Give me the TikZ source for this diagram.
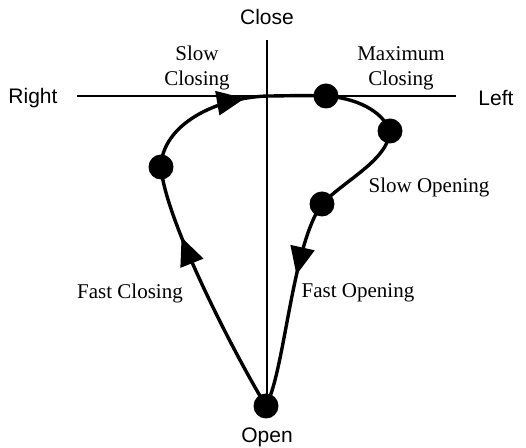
\documentclass[tikz,border=0pt]{standalone}
\usepackage{fontspec}
\setmainfont{Liberation Serif}
\setsansfont{Liberation Sans}
\usetikzlibrary{arrows.meta,decorations.markings}
\begin{document}
\begin{tikzpicture}[x=0.5pt,y=-0.5pt,
  axis/.style={line width=0.6pt},
  curve/.style={line width=1.7pt},
  dot/.style={circle,fill=black,inner sep=0pt,minimum size=12.5pt},
  axlabel/.style={font=\sffamily\fontsize{10.5}{12}\selectfont},
  phase/.style={font=\fontsize{10.5}{12.5}\selectfont,align=center},
  arr/.style={postaction={decorate},decoration={markings,mark=at position #1 with {\arrow{Triangle[length=14pt,width=12pt]}}}}
]
\useasboundingbox (0,0) rectangle (526,448);
% axes
\coordinate (axL) at (77,96);
\coordinate (axR) at (456,96);
\coordinate (axT) at (267,40);
\coordinate (axB) at (267,415);
\coordinate (o) at (267,96);
\draw[axis] (axL) -- (axR);
\draw[axis] (axT) -- (axB);
% axis labels
\node[axlabel] (close) at (267,17) {Close};
\node[axlabel] (open) at (267,437) {Open};
\node[axlabel] (right) at (33,98) {Right};
\node[axlabel] (left) at (496,98) {Left};
% phase labels
\node[phase] (slowc) at (197,68) {Slow\\Closing};
\node[phase] (maxc) at (401,68) {Maximum\\Closing};
\node[phase] (slowo) at (429,187) {Slow Opening};
\node[phase] (fasto) at (358,293) {Fast Opening};
\node[phase] (fastc) at (130,293) {Fast Closing};
% points
\coordinate (p1) at (326,96);
\coordinate (p2) at (390,131);
\coordinate (p3) at (322,204);
\coordinate (p4) at (266,406);
\coordinate (p5) at (161,167);
% curve
\draw[curve,arr=0.72] (p4) .. controls (235,355) and (165,220) .. (p5);
\draw[curve,arr=0.84] (p5) .. controls (162,125) and (215,98) .. (o);
\draw[curve] (o) .. controls (285,96) and (305,95) .. (p1);
\draw[curve] (p1) .. controls (355,98) and (382,110) .. (p2);
\draw[curve] (p2) .. controls (388,160) and (345,180) .. (p3);
\draw[curve,arr=0.36] (p3) .. controls (292,245) and (285,370) .. (p4);
% dots
\foreach \p in {p1,p2,p3,p4,p5} \node[dot] at (\p) {};
\end{tikzpicture}
\end{document}
